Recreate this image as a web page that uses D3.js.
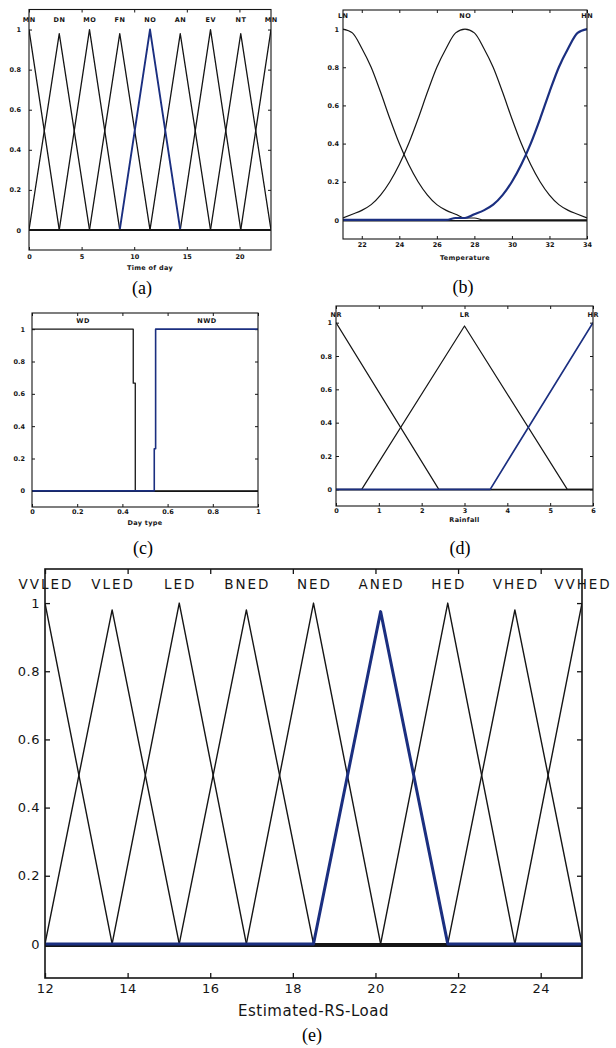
<!DOCTYPE html>
<html>
<head>
<meta charset="utf-8">
<script src="https://cdn.jsdelivr.net/npm/d3@7"></script>
<style>
  body { margin: 0; background: #fff; }
  svg { display: block; }
</style>
</head>
<body>
<script>
// ---- data ----
// (a) time of day, triangular MFs [a, b, c]
const aNames = ["MN", "DN", "MO", "FN", "NO", "AN", "EV", "NT", "MN"];
const aParams = [[-2.875, 0, 2.875], [0, 2.875, 5.75], [2.875, 5.75, 8.625], [5.75, 8.625, 11.5],
  [8.625, 11.5, 14.375], [11.5, 14.375, 17.25], [14.375, 17.25, 20.125], [17.25, 20.125, 23], [20.125, 23, 25.875]];
const aPeaks = [1, 0.98, 1, 0.98, 1, 0.98, 1, 0.98, 1];
const aXTicks = [0, 5, 10, 15, 20];

// (b) temperature, gaussian-like MFs sampled off the plot
const bNames = ["LN", "NO", "HN"];
const bCenters = [21, 27.5, 34];
const bX = [21, 21.5, 22, 22.5, 23, 23.5, 24, 24.5, 25, 25.5, 26, 26.5, 27, 27.5,
  28, 28.5, 29, 29.5, 30, 30.5, 31, 31.5, 32, 32.5, 33, 33.5, 34];
const bLow = [1, .98, .90, .80, .67, .53, .40, .29, .20, .13, .08, .05, .03, .01,
  .01, 0, 0, 0, 0, 0, 0, 0, 0, 0, 0, 0, 0];
const bNorm = [.01, .03, .05, .08, .13, .20, .29, .40, .53, .67, .80, .90, .98, 1,
  .98, .90, .80, .67, .53, .40, .29, .20, .13, .08, .05, .03, .01];
const bHigh = [0, 0, 0, 0, 0, 0, 0, 0, 0, 0, 0, 0, .01,
  .01, .03, .05, .08, .13, .20, .29, .40, .53, .67, .80, .90, .98, 1];
const bXTicks = [22, 24, 26, 28, 30, 32, 34];

// (c) day type, step-like MFs
const cNames = ["WD", "NWD"];
const cLabelX = [0.225, 0.773];
const cWD = [[0, 1], [0.448, 1], [0.448, 0.666], [0.457, 0.666], [0.457, 0], [1, 0]];
const cNWD = [[0, 0], [0.541, 0], [0.541, 0.26], [0.547, 0.26], [0.547, 1], [1, 1]];
const cXTicks = [0, 0.2, 0.4, 0.6, 0.8, 1];

// (d) rainfall
const dNames = ["NR", "LR", "HR"];
const dParams = [[-2.4, 0, 2.4], [0.6, 3, 5.4], [3.6, 6, 8.4]];
const dPeaks = [1, 0.98, 1];
const dXTicks = [0, 1, 2, 3, 4, 5, 6];

// (e) estimated RS load
const eNames = ["VVLED", "VLED", "LED", "BNED", "NED", "ANED", "HED", "VHED", "VVHED"];
const eParams = [[10.375, 12, 13.625], [12, 13.625, 15.25], [13.625, 15.25, 16.875], [15.25, 16.875, 18.5],
  [16.875, 18.5, 20.125], [18.5, 20.125, 21.75], [20.125, 21.75, 23.375], [21.75, 23.375, 25], [23.375, 25, 26.625]];
const ePeaks = [1, 0.98, 1, 0.98, 1, 0.975, 1, 0.98, 1];
const eXTicks = [12, 14, 16, 18, 20, 22, 24];

const yTicks = [0, 0.2, 0.4, 0.6, 0.8, 1];

const BLACK = "#151515";
const BLUE = "#1b2f80";

// points of a triangular MF at its breakpoints inside the domain
function trimfPoints(p, peak, dom) {
  const f = v => (v <= p[0] || v >= p[2]) ? 0 : v <= p[1] ? peak * (v - p[0]) / (p[1] - p[0]) : peak * (p[2] - v) / (p[2] - p[1]);
  const xs = Array.from(new Set([dom[0], p[0], p[1], p[2], dom[1]]))
    .filter(v => v >= dom[0] && v <= dom[1]).sort((m, n) => m - n);
  return xs.map(v => [v, v === p[1] ? peak : f(v)]);
}

let svg = d3.select('body').append('svg')
  .attr('width', 616)
  .attr('height', 1048);

let clipId = 0;

function drawPanel(p) {
  let x = d3.scaleLinear().domain(p.domain).range([p.box.x0, p.box.x1]);
  let y = d3.scaleLinear().domain([-0.1, 1.1]).range([p.box.y1, p.box.y0]);
  let g = svg.append('g');
  let font = p.font;

  let id = 'clip' + (clipId++);
  g.append('clipPath').attr('id', id).append('rect')
    .attr('x', p.box.x0).attr('y', p.box.y0)
    .attr('width', p.box.x1 - p.box.x0).attr('height', p.box.y1 - p.box.y0);

  let styleAxis = a => {
    a.select('.domain').remove();
    a.attr('color', BLACK)
      .attr('font-family', font.family)
      .attr('font-size', font.tick)
      .attr('font-weight', font.weight)
      .attr('letter-spacing', font.tickSpacing);
    a.selectAll('line').attr('stroke-width', p.tickWidth);
  };

  g.append('g').attr('transform', `translate(0,${p.box.y1})`)
    .call(d3.axisBottom(x).tickValues(p.xTicks).tickFormat(String)
      .tickSizeInner(-p.tick).tickSizeOuter(0).tickPadding(p.xPad))
    .call(styleAxis);
  g.append('g').attr('transform', `translate(0,${p.box.y0})`)
    .call(d3.axisTop(x).tickValues(p.xTicks).tickFormat('')
      .tickSizeInner(-p.tick).tickSizeOuter(0))
    .call(styleAxis);
  g.append('g').attr('transform', `translate(${p.box.x0},0)`)
    .call(d3.axisLeft(y).tickValues(yTicks).tickFormat(String)
      .tickSizeInner(-p.tick).tickSizeOuter(0).tickPadding(p.yPad))
    .call(styleAxis);
  g.append('g').attr('transform', `translate(${p.box.x1},0)`)
    .call(d3.axisRight(y).tickValues(yTicks).tickFormat('')
      .tickSizeInner(-p.tick).tickSizeOuter(0))
    .call(styleAxis);

  let plot = g.append('g').attr('clip-path', `url(#${id})`);
  let line = d3.line().x(d => x(d[0])).y(d => y(d[1])).curve(p.curve || d3.curveLinear);

  let baseline = () => plot.append('line')
    .attr('x1', p.box.x0).attr('x2', p.box.x1)
    .attr('y1', y(0) + p.base.offset).attr('y2', y(0) + p.base.offset)
    .attr('stroke', BLACK).attr('stroke-width', p.base.width);

  if (!p.base.onTop) baseline();

  p.mfs.forEach((pts, i) => {
    if (i === p.selected) return;
    plot.append('path').attr('d', line(pts))
      .attr('fill', 'none').attr('stroke', BLACK)
      .attr('stroke-width', p.lineWidth).attr('stroke-linejoin', 'round');
  });
  plot.append('path').attr('d', line(p.mfs[p.selected]))
    .attr('fill', 'none').attr('stroke', BLUE)
    .attr('stroke-width', p.blueWidth).attr('stroke-linejoin', 'round');

  if (p.base.onTop) baseline();

  g.append('rect')
    .attr('x', p.box.x0).attr('y', p.box.y0)
    .attr('width', p.box.x1 - p.box.x0).attr('height', p.box.y1 - p.box.y0)
    .attr('fill', 'none').attr('stroke', BLACK).attr('stroke-width', p.frameWidth);

  // MF names
  g.selectAll('.mfname').data(p.names).enter().append('text')
    .attr('class', 'mfname')
    .attr('x', (d, i) => x(p.labelX[i]) + font.nameSpacing / 2)
    .attr('y', y(p.labelLevel))
    .attr('dy', '0.35em')
    .attr('text-anchor', 'middle')
    .attr('font-family', font.family)
    .attr('font-size', font.name)
    .attr('font-weight', font.weight)
    .attr('letter-spacing', font.nameSpacing)
    .attr('fill', BLACK)
    .text(d => d);

  // x axis title
  g.append('text')
    .attr('x', (p.box.x0 + p.box.x1) / 2)
    .attr('y', p.titleY)
    .attr('text-anchor', 'middle')
    .attr('font-family', font.family)
    .attr('font-size', font.title)
    .attr('font-weight', font.weight)
    .attr('letter-spacing', font.titleSpacing)
    .attr('fill', BLACK)
    .text(p.title);

  // caption
  g.append('text')
    .attr('x', p.caption.x).attr('y', p.caption.y)
    .attr('text-anchor', 'middle')
    .attr('font-family', 'Liberation Serif, Times New Roman, serif')
    .attr('font-size', 18)
    .attr('fill', '#000')
    .text(p.caption.text);
}

const smallFont = { family: 'DejaVu Sans, sans-serif', tick: 6.5, name: 6.5, title: 6.5, weight: 'bold',
  tickSpacing: 0, nameSpacing: 0.5, titleSpacing: 0.3 };
const bigFont = { family: 'DejaVu Sans, sans-serif', tick: 13, name: 13.5, title: 15, weight: 'normal',
  tickSpacing: 0.5, nameSpacing: 2, titleSpacing: 0.5 };

const aDom = [0, 23], dDom = [0, 6], eDom = [12, 25];

drawPanel({
  domain: aDom, box: { x0: 29, x1: 271, y0: 9.5, y1: 250 },
  xTicks: aXTicks, xPad: 4, yPad: 8, tick: 3, tickWidth: 1,
  mfs: aParams.map((pr, i) => i === 4 ? pr.map((v, k) => [v, k === 1 ? aPeaks[i] : 0]) : trimfPoints(pr, aPeaks[i], aDom)),
  selected: 4, lineWidth: 1.3, blueWidth: 1.9, frameWidth: 1.1,
  base: { onTop: true, offset: 0, width: 1.8 },
  names: aNames, labelX: aParams.map(pr => pr[1]), labelLevel: 1.05,
  title: 'Time of day', titleY: 269.5, font: smallFont,
  caption: { text: '(a)', x: 142, y: 294 }
});

drawPanel({
  domain: [21, 34], box: { x0: 343, x1: 587, y0: 10, y1: 239 },
  xTicks: bXTicks, xPad: 3, yPad: 4, tick: 3, tickWidth: 1,
  mfs: [bLow, bNorm, bHigh].map(vals => bX.map((v, i) => [v, vals[i]])),
  curve: d3.curveMonotoneX,
  selected: 2, lineWidth: 1.2, blueWidth: 2.2, frameWidth: 1.1,
  base: { onTop: false, offset: 0.8, width: 1.4 },
  names: bNames, labelX: bCenters, labelLevel: 1.07,
  title: 'Temperature', titleY: 259.5, font: smallFont,
  caption: { text: '(b)', x: 463, y: 293 }
});

drawPanel({
  domain: [0, 1], box: { x0: 32, x1: 258, y0: 313, y1: 507 },
  xTicks: cXTicks, xPad: 2.5, yPad: 7, tick: 3, tickWidth: 1,
  mfs: [cWD, cNWD],
  selected: 1, lineWidth: 1.3, blueWidth: 1.6, frameWidth: 1.1,
  base: { onTop: false, offset: 0.5, width: 1.3 },
  names: cNames, labelX: cLabelX, labelLevel: 1.05,
  title: 'Day type', titleY: 524.5, font: smallFont,
  caption: { text: '(c)', x: 143, y: 554 }
});

drawPanel({
  domain: dDom, box: { x0: 336, x1: 593, y0: 306, y1: 506 },
  xTicks: dXTicks, xPad: 2, yPad: 4, tick: 3, tickWidth: 1,
  mfs: dParams.map((pr, i) => trimfPoints(pr, dPeaks[i], dDom)),
  selected: 2, lineWidth: 1.2, blueWidth: 1.7, frameWidth: 1.1,
  base: { onTop: false, offset: 0.5, width: 1.3 },
  names: dNames, labelX: dParams.map(pr => pr[1]), labelLevel: 1.05,
  title: 'Rainfall', titleY: 521.5, font: smallFont,
  caption: { text: '(d)', x: 460, y: 554 }
});

drawPanel({
  domain: eDom, box: { x0: 45, x1: 582, y0: 569, y1: 978 },
  xTicks: eXTicks, xPad: 5.5, yPad: 5, tick: 5, tickWidth: 1.3,
  mfs: eParams.map((pr, i) => trimfPoints(pr, ePeaks[i], eDom)),
  selected: 5, lineWidth: 1.4, blueWidth: 3, frameWidth: 1.6,
  base: { onTop: false, offset: 2, width: 2 },
  names: eNames, labelX: eParams.map(pr => pr[1]), labelLevel: 1.055,
  title: 'Estimated-RS-Load', titleY: 1016, font: bigFont,
  caption: { text: '(e)', x: 312, y: 1041 }
});
</script>
</body>
</html>
